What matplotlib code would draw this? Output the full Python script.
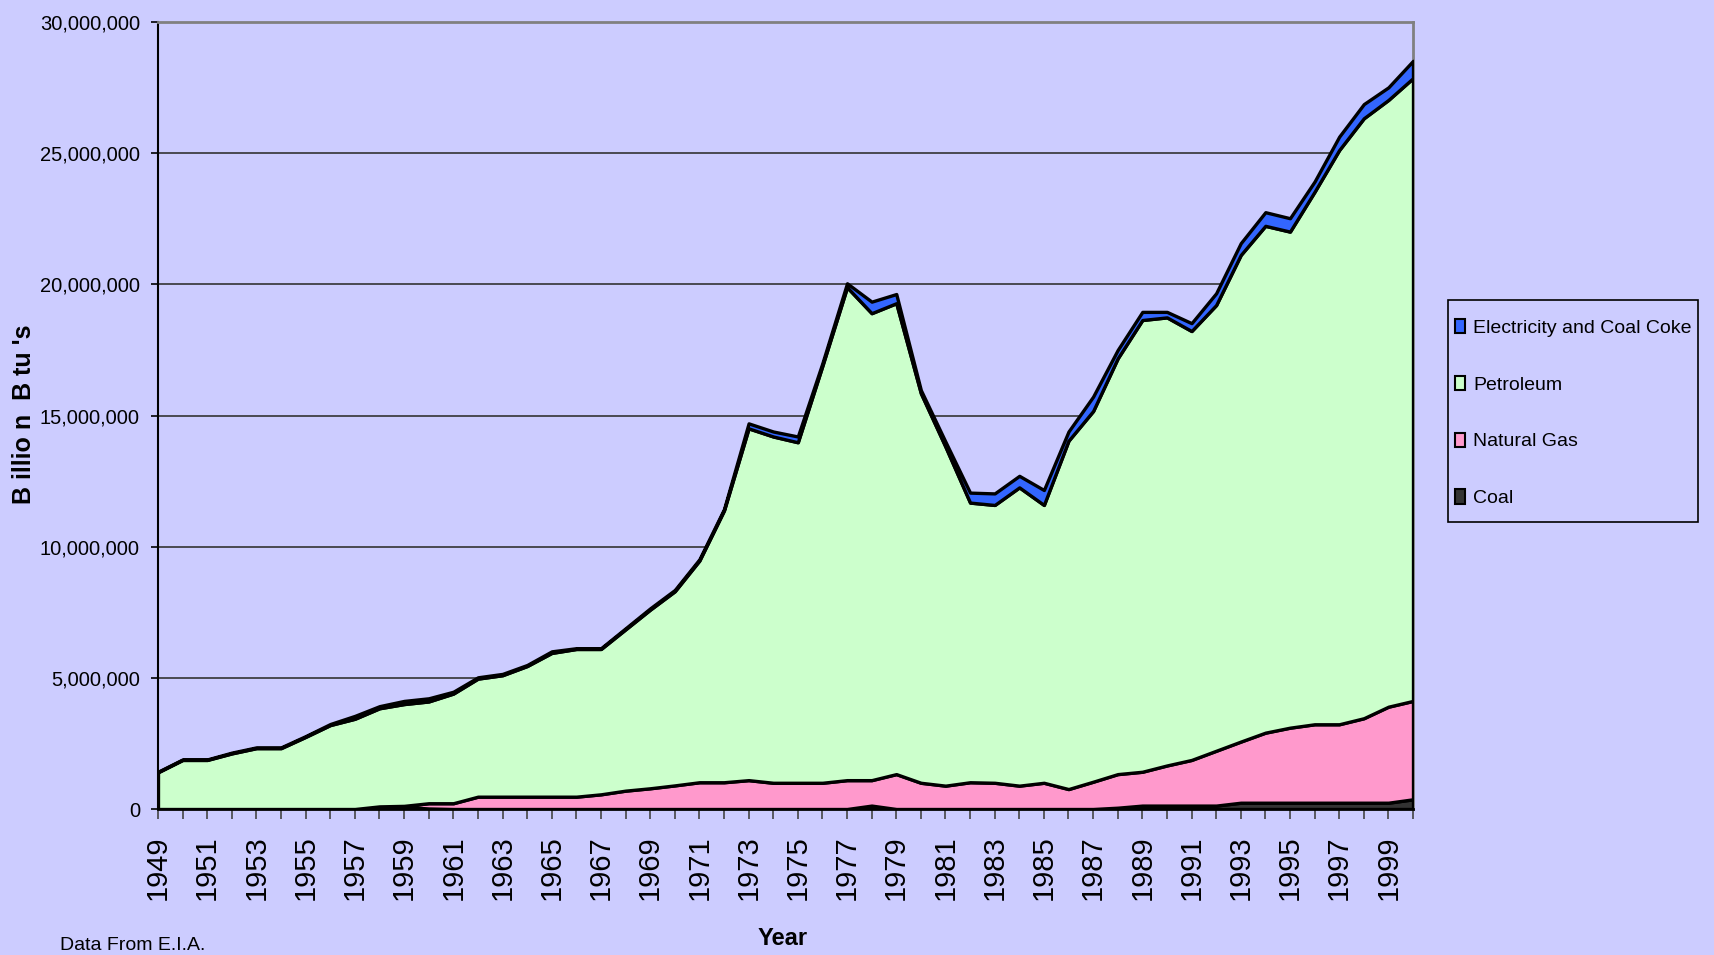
import numpy as np
import matplotlib
matplotlib.use("Agg")
import matplotlib.pyplot as plt
from matplotlib.patches import Patch, Rectangle
from matplotlib.ticker import FuncFormatter

plt.rcParams['font.family'] = ['Liberation Sans', 'DejaVu Sans']

years = list(range(1949, 2001))

# values in millions of billion Btu
coal = [0, 0, 0, 0, 0, 0, 0, 0, 0, 0.10, 0.08, 0.02, 0, 0, 0, 0, 0, 0, 0,
        0, 0, 0, 0, 0, 0, 0, 0, 0, 0, 0.13, 0, 0, 0, 0, 0, 0, 0, 0, 0,
        0.05, 0.13, 0.13, 0.13, 0.13, 0.24, 0.24, 0.24, 0.24, 0.24, 0.24, 0.24, 0.37]
natural_gas = [0, 0, 0, 0, 0, 0, 0, 0, 0, 0, 0.04, 0.20, 0.22, 0.47, 0.47, 0.47,
               0.47, 0.47, 0.56, 0.70, 0.79, 0.90, 1.02, 1.02, 1.10, 1.00, 1.00,
               1.00, 1.10, 0.97, 1.33, 1.00, 0.89, 1.02, 1.00, 0.89, 1.00, 0.76,
               1.04, 1.28, 1.29, 1.53, 1.74, 2.09, 2.33, 2.67, 2.86, 2.99, 2.99,
               3.22, 3.66, 3.75]
petroleum = [1.40, 1.87, 1.87, 2.12, 2.32, 2.32, 2.75, 3.20, 3.44, 3.74, 3.88,
             3.88, 4.18, 4.50, 4.63, 4.98, 5.48, 5.63, 5.54, 6.15, 6.81, 7.40,
             8.45, 10.36, 13.41, 13.20, 12.98, 15.90, 18.79, 17.80, 17.95, 14.85,
             12.92, 10.66, 10.59, 11.37, 10.59, 13.28, 14.13, 15.85, 17.22, 17.08,
             16.35, 16.99, 18.55, 19.32, 18.91, 20.30, 21.89, 22.87, 23.13, 23.74]
electricity = [0.02, 0.02, 0.02, 0.03, 0.03, 0.03, 0.03, 0.04, 0.11, 0.08, 0.12,
               0.12, 0.07, 0.05, 0.05, 0.04, 0.06, 0.03, 0.03, 0.04, 0.05, 0.05,
               0.05, 0.05, 0.19, 0.19, 0.22, 0.10, 0.15, 0.44, 0.35, 0.12, 0.19,
               0.38, 0.44, 0.44, 0.57, 0.35, 0.55, 0.32, 0.31, 0.21, 0.30, 0.45,
               0.45, 0.52, 0.51, 0.39, 0.51, 0.54, 0.48, 0.66]

series_names = ['Coal', 'Natural Gas', 'Petroleum', 'Electricity and Coal Coke']
series_colors = ['#333333', '#FF99CC', '#CCFFCC', '#3366FF']
bg = '#CCCCFF'

W, H = 1715, 955
fig = plt.figure(figsize=(W / 100, H / 100), dpi=100, facecolor=bg)
ax = fig.add_axes([158 / W, 1 - 809 / H, (1413 - 158) / W, (809 - 22) / H])
ax.set_facecolor(bg)

stack = [np.array(s) * 1e6 for s in (coal, natural_gas, petroleum, electricity)]
ax.stackplot(years, *stack, colors=series_colors, edgecolor='black',
             linewidth=2.4, zorder=3)

ax.set_xlim(1949, 2000)
ax.set_ylim(0, 30e6)
ax.set_yticks(np.arange(0, 30e6 + 1, 5e6))
ax.yaxis.set_major_formatter(FuncFormatter(lambda v, p: f"{v:,.0f}"))
ax.grid(axis='y', color='#333333', linewidth=1.2, zorder=1)
ax.set_axisbelow(True)

ax.set_xticks(years)
ax.set_xticklabels([str(y) if (y - 1949) % 2 == 0 else '' for y in years],
                   rotation=90, fontsize=21)
ax.tick_params(axis='x', length=7, width=1.2, color='#444444', pad=12, direction='out')
ax.tick_params(axis='y', length=5, width=1.2, color='black', pad=8, labelsize=14.5)

for side in ('top', 'right'):
    ax.spines[side].set_color('#808080')
    ax.spines[side].set_linewidth(2)
ax.spines['left'].set_linewidth(1.5)
ax.spines['bottom'].set_linewidth(2)

fig.text(783 / W, 1 - 938 / H, 'Year', ha='center', va='center',
         fontsize=17, fontweight='bold')
fig.text(24 / W, 1 - 414 / H, "B illio n  B tu 's", ha='center', va='center',
         rotation=90, fontsize=18, fontweight='bold')
fig.text(60 / W, 1 - 937 / H, 'Data From E.I.A.', ha='left', va='top', fontsize=14)

# legend frame drawn separately so the rows can sit where the reference has them
fig.add_artist(Rectangle((1448 / W, 1 - 522 / H), 250 / W, 222 / H,
                         transform=fig.transFigure, facecolor=bg,
                         edgecolor='black', linewidth=1.2, zorder=1))
handles = [Patch(facecolor=c, edgecolor='black', linewidth=1.5)
           for c in series_colors[::-1]]
fig.legend(handles, series_names[::-1], loc='upper left',
           bbox_to_anchor=(1455 / W, 1 - 319 / H), fontsize=14,
           frameon=False, handlelength=0.5, handleheight=0.75, handletextpad=0.45,
           labelspacing=2.0, borderpad=0, borderaxespad=0)

fig.savefig('out.png', dpi=100, facecolor=bg)
